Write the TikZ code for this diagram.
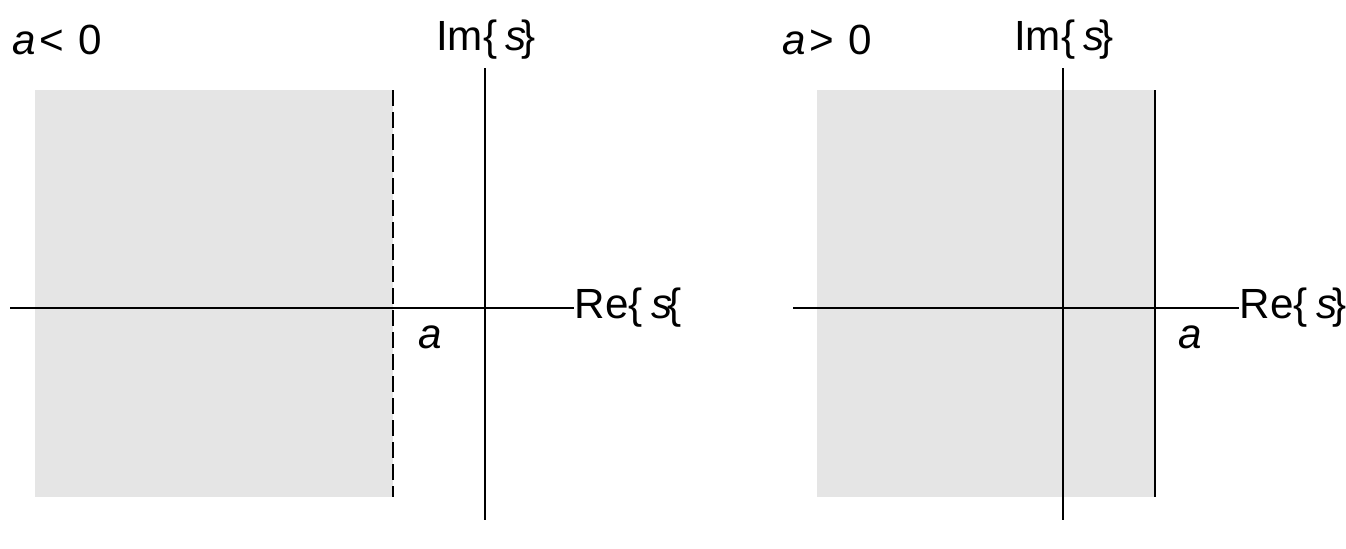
\documentclass[tikz,border=0pt]{standalone}
\usepackage{fontspec}
\setmainfont{Liberation Sans}
\definecolor{splaneRegion}{RGB}{229,229,229}
\newcommand{\bracedS}[1]{\{\kern2.5pt\textit{s}\kern-1.5pt#1}
\tikzset{
  axisline/.style={line width=0.6pt},
  boundline/.style={line width=0.6pt},
  axislabel/.style={inner sep=1pt, font=\fontsize{12}{14}\selectfont}
}
\begin{document}
\begin{tikzpicture}[x=0.01cm, y=-0.01cm, font=\fontsize{12}{14}\selectfont]
\useasboundingbox (0,0) rectangle (1346,548);
%% Panel A: a < 0, region left of the dashed line
\begin{scope}
  \fill[splaneRegion] (35,90) rectangle (393,497);
  \coordinate (bndTopA) at (393,90);
  \coordinate (bndBotA) at (393,497);
  \draw[boundline, dash pattern=on 0.16cm off 0.06cm] (bndTopA) -- (bndBotA);
  \node[axislabel, anchor=west] (condA) at (8,40) {\textit{a}\kern1pt<\kern0.7pt~0};
  \node[axislabel] (imA) at (486,40) {Im\bracedS{\}}};
  \node[axislabel, anchor=west, inner sep=0pt] (reA) at (574,308) {Re\bracedS{\{}};
  \node[axislabel] (aA) at (430,337) {\textit{a}};
  \coordinate (reStartA) at (10,308);
  \coordinate (imTopA) at (485,68);
  \coordinate (imBotA) at (485,520);
  \draw[axisline] (reStartA) -- (reA.west);
  \draw[axisline] (imTopA) -- (imBotA);
\end{scope}
%% Panel B: a > 0, region left of the solid line
\begin{scope}
  \fill[splaneRegion] (817,90) rectangle (1155,497);
  \coordinate (bndTopB) at (1155,90);
  \coordinate (bndBotB) at (1155,497);
  \draw[boundline] (bndTopB) -- (bndBotB);
  \node[axislabel, anchor=west] (condB) at (778,40) {\textit{a}\kern1pt>\kern0.7pt~0};
  \node[axislabel] (imB) at (1064,40) {Im\bracedS{\}}};
  \node[axislabel, anchor=west, inner sep=0pt] (reB) at (1239,308) {Re\bracedS{\}}};
  \node[axislabel] (aB) at (1190,337) {\textit{a}};
  \coordinate (reStartB) at (793,308);
  \coordinate (imTopB) at (1063,68);
  \coordinate (imBotB) at (1063,520);
  \draw[axisline] (reStartB) -- (reB.west);
  \draw[axisline] (imTopB) -- (imBotB);
\end{scope}
\end{tikzpicture}
\end{document}
